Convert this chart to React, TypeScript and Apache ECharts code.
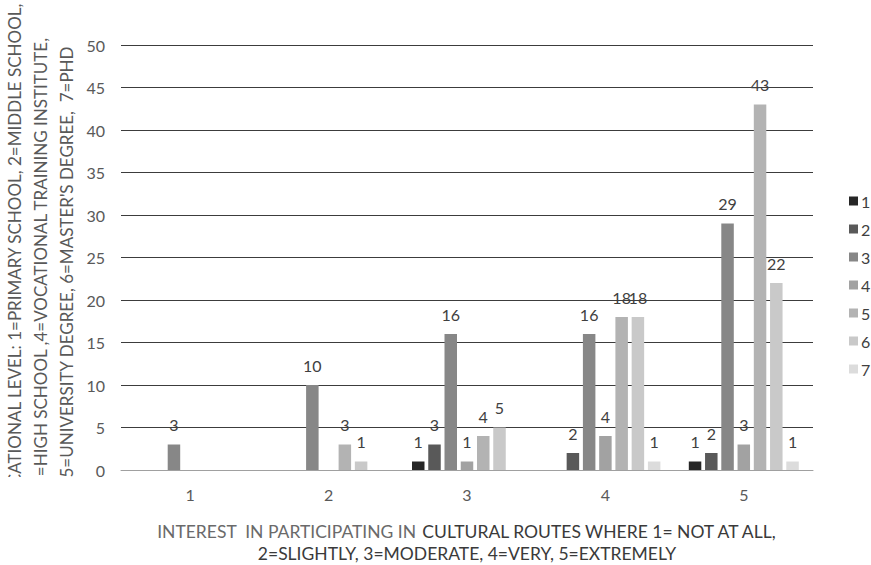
import React, { useEffect, useRef } from "react";
import * as echarts from "echarts";

// Interest levels on the x axis
const interestLevels = ["1", "2", "3", "4", "5"];

// Counts per educational level (one series per level)
const level1 = [0, 0, 1, 0, 1];
const level2 = [0, 0, 3, 2, 2];
const level3 = [3, 10, 16, 16, 29];
const level4 = [0, 0, 1, 4, 3];
const level5 = [0, 3, 4, 18, 43];
const level6 = [0, 1, 5, 18, 22];
const level7 = [0, 0, 0, 1, 1];

const levelNames = ["1", "2", "3", "4", "5", "6", "7"];
const levelValues = [level1, level2, level3, level4, level5, level6, level7];
const levelColors = ["#262626", "#595959", "#878787", "#a2a2a2", "#b3b3b3", "#c9c9c9", "#dcdcdc"];

const yTicksMax = 50;
const yTicksStep = 5;

const yTitleLines = [
  "EDUCATIONAL LEVEL: 1=PRIMARY SCHOOL, 2=MIDDLE SCHOOL,",
  "3=HIGH SCHOOL ,4=VOCATIONAL TRAINING INSTITUTE,",
  "5=UNIVERSITY DEGREE, 6=MASTER'S DEGREE,  7=PHD",
];

const FONT = "Lato, 'Noto Sans', sans-serif";

export default function App() {
  const ref = useRef<HTMLDivElement>(null);

  useEffect(() => {
    if (!ref.current) return;
    const chart = echarts.init(ref.current, undefined, { renderer: "svg" });

    const series = levelNames.map((name, i) => ({
      name,
      type: "bar",
      data: levelValues[i],
      barWidth: 12.5,
      barGap: "30%",
      itemStyle: { color: levelColors[i] },
      label: {
        show: true,
        position: "top",
        distance: 12,
        color: "#404040",
        fontFamily: FONT,
        fontSize: 16,
        formatter: (p: any) => (p.value === 0 ? "" : String(p.value)),
      },
    }));

    chart.setOption({
      animation: false,
      backgroundColor: "#ffffff",
      textStyle: { fontFamily: FONT },
      grid: { left: 121, right: 58, top: 45, bottom: 95, containLabel: false },
      legend: {
        orient: "vertical",
        left: 844,
        top: 188,
        itemWidth: 9,
        itemHeight: 9,
        itemGap: 12,
        icon: "rect",
        textStyle: { color: "#404040", fontSize: 16, fontFamily: FONT, padding: [0, 0, 0, -2] },
        data: levelNames,
      },
      xAxis: {
        type: "category",
        data: interestLevels,
        axisTick: { show: false },
        axisLine: { lineStyle: { color: "#a0a0a0", width: 1 } },
        axisLabel: { color: "#595959", fontSize: 16, fontFamily: FONT, margin: 16 },
      },
      yAxis: {
        type: "value",
        min: 0,
        max: yTicksMax,
        interval: yTicksStep,
        axisLine: { show: false },
        axisTick: { show: false },
        axisLabel: { color: "#595959", fontSize: 16, fontFamily: FONT, margin: 16 },
        splitLine: { lineStyle: { color: "#3c3c3c", width: 1 } },
      },
      graphic: [
        {
          type: "text",
          x: 40,
          y: 262,
          rotation: Math.PI / 2,
          z: 10,
          style: {
            text: yTitleLines.join("\n"),
            fill: "#595959",
            font: `17px ${FONT}`,
            lineHeight: 26,
            textAlign: "center",
            textVerticalAlign: "middle",
          },
        },
        {
          // the axis title box ends just above the x-axis line
          type: "rect",
          z: 11,
          shape: { x: 0, y: 477, width: 86, height: 88 },
          style: { fill: "#ffffff" },
        },
        {
          type: "text",
          x: 467,
          y: 542,
          z: 10,
          style: {
            text:
              "{a|INTEREST  IN PARTICIPATING IN }{b|CULTURAL ROUTES WHERE 1= NOT AT ALL,}\n{b|2=SLIGHTLY, 3=MODERATE, 4=VERY, 5=EXTREMELY}",
            textAlign: "center",
            textVerticalAlign: "middle",
            rich: {
              a: { fill: "#6a6a6a", fontSize: 17.5, fontFamily: FONT, lineHeight: 22 },
              b: { fill: "#3a3a3a", fontSize: 17.5, fontFamily: FONT, lineHeight: 22 },
            },
          },
        },
      ],
      series,
    });

    return () => chart.dispose();
  }, []);

  return <div ref={ref} style={{ width: 871, height: 565, position: "absolute", left: 0, top: 0 }} />;
}
